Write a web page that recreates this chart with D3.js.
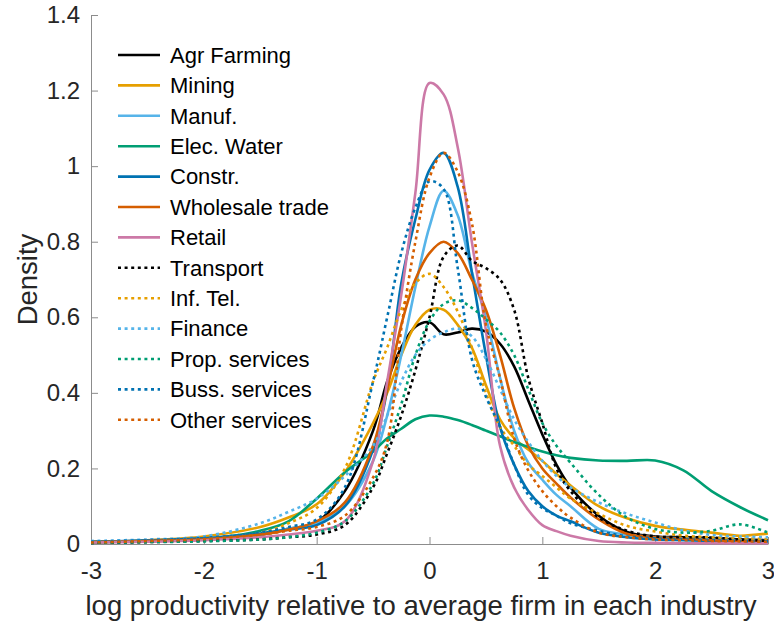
<!DOCTYPE html>
<html>
<head>
<meta charset="utf-8">
<script src="https://cdn.jsdelivr.net/npm/d3@7"></script>
<style>
  html, body { margin: 0; padding: 0; background: #fff; }
  svg { display: block; font-family: "Liberation Sans", Arial, Helvetica, sans-serif; }
</style>
</head>
<body>
<svg id="chart" width="774" height="627"></svg>
<script>
// Evaluation grid for the kernel density estimates
const xGrid = [-3, -2.5, -2, -1.5, -1.25, -1, -0.75, -0.5, -0.375, -0.25, -0.125, 0, 0.125, 0.25, 0.375, 0.5, 0.625, 0.75, 0.875, 1, 1.125, 1.25, 1.5, 1.75, 2, 2.25, 2.5, 2.75, 3];

const industries = ["Agr Farming", "Mining", "Manuf.", "Elec. Water", "Constr.", "Wholesale trade", "Retail",
                    "Transport", "Inf. Tel.", "Finance", "Prop. services", "Buss. services", "Other services"];

const agrFarming   = [0.005, 0.008, 0.012, 0.025, 0.04, 0.058, 0.14, 0.30, 0.43, 0.52, 0.575, 0.587, 0.555, 0.56, 0.57, 0.562, 0.53, 0.47, 0.38, 0.29, 0.21, 0.15, 0.075, 0.032, 0.02, 0.018, 0.015, 0.012, 0.01];
const mining       = [0.005, 0.01, 0.02, 0.045, 0.07, 0.105, 0.19, 0.32, 0.40, 0.50, 0.58, 0.62, 0.62, 0.58, 0.52, 0.42, 0.33, 0.28, 0.25, 0.22, 0.185, 0.155, 0.1, 0.068, 0.048, 0.038, 0.03, 0.022, 0.028];
const manuf        = [0.005, 0.008, 0.012, 0.025, 0.04, 0.055, 0.1, 0.22, 0.34, 0.5, 0.68, 0.84, 0.935, 0.87, 0.72, 0.6, 0.44, 0.3, 0.215, 0.17, 0.13, 0.1, 0.04, 0.025, 0.018, 0.015, 0.012, 0.01, 0.008];
const elecWater    = [0.005, 0.008, 0.013, 0.035, 0.06, 0.12, 0.19, 0.245, 0.28, 0.305, 0.33, 0.34, 0.337, 0.328, 0.315, 0.3, 0.285, 0.27, 0.257, 0.245, 0.235, 0.228, 0.221, 0.22, 0.221, 0.195, 0.14, 0.098, 0.063];
const constr       = [0.005, 0.01, 0.015, 0.028, 0.038, 0.05, 0.1, 0.25, 0.41, 0.69, 0.86, 0.99, 1.035, 0.945, 0.72, 0.5, 0.31, 0.21, 0.14, 0.1, 0.075, 0.06, 0.03, 0.018, 0.012, 0.01, 0.008, 0.006, 0.005];
const wholesale    = [0.005, 0.008, 0.012, 0.025, 0.038, 0.06, 0.11, 0.26, 0.41, 0.58, 0.7, 0.77, 0.8, 0.77, 0.7, 0.62, 0.5, 0.36, 0.26, 0.2, 0.16, 0.123, 0.065, 0.027, 0.018, 0.014, 0.01, 0.008, 0.006];
const retail       = [0.004, 0.006, 0.01, 0.018, 0.025, 0.035, 0.06, 0.22, 0.43, 0.66, 0.93, 1.22, 1.19, 1.05, 0.8, 0.565, 0.26, 0.15, 0.09, 0.05, 0.034, 0.022, 0.008, 0.004, 0.003, 0.002, 0.002, 0.002, 0.002];
const transport    = [0.003, 0.005, 0.008, 0.012, 0.018, 0.025, 0.05, 0.15, 0.24, 0.34, 0.46, 0.6, 0.76, 0.79, 0.75, 0.73, 0.7, 0.62, 0.44, 0.32, 0.2, 0.14, 0.07, 0.035, 0.02, 0.018, 0.017, 0.012, 0.008];
const infTel       = [0.005, 0.008, 0.015, 0.03, 0.055, 0.095, 0.2, 0.43, 0.52, 0.62, 0.69, 0.715, 0.68, 0.615, 0.52, 0.4, 0.31, 0.26, 0.21, 0.18, 0.15, 0.12, 0.08, 0.048, 0.033, 0.022, 0.018, 0.015, 0.013];
const finance      = [0.008, 0.012, 0.02, 0.055, 0.085, 0.12, 0.18, 0.26, 0.34, 0.43, 0.5, 0.54, 0.56, 0.57, 0.55, 0.49, 0.41, 0.33, 0.27, 0.22, 0.18, 0.15, 0.11, 0.08, 0.057, 0.036, 0.024, 0.02, 0.018];
const propServices = [0.003, 0.005, 0.007, 0.012, 0.018, 0.03, 0.06, 0.16, 0.26, 0.37, 0.5, 0.59, 0.635, 0.645, 0.625, 0.595, 0.56, 0.5, 0.41, 0.32, 0.26, 0.215, 0.13, 0.07, 0.04, 0.03, 0.035, 0.052, 0.03];
const bussServices = [0.006, 0.01, 0.016, 0.03, 0.045, 0.065, 0.15, 0.43, 0.6, 0.77, 0.89, 0.96, 0.94, 0.73, 0.49, 0.39, 0.31, 0.21, 0.13, 0.095, 0.075, 0.055, 0.035, 0.02, 0.015, 0.012, 0.01, 0.008, 0.007];
const otherServices= [0.004, 0.008, 0.013, 0.025, 0.035, 0.045, 0.075, 0.176, 0.27, 0.57, 0.8, 0.97, 1.035, 0.985, 0.85, 0.58, 0.44, 0.28, 0.195, 0.14, 0.1, 0.07, 0.03, 0.018, 0.012, 0.01, 0.008, 0.007, 0.006];

const densities = [agrFarming, mining, manuf, elecWater, constr, wholesale, retail,
                   transport, infTel, finance, propServices, bussServices, otherServices];

const palette = ["#000000", "#E69F00", "#56B4E9", "#009E73", "#0072B2", "#D55E00", "#CC79A7"];
const colors = industries.map((d, i) => i < 7 ? palette[i] : palette[i - 7]);
const dotted = industries.map((d, i) => i >= 7);

const xTicks = [-3, -2, -1, 0, 1, 2, 3];
const yTicks = [0, 0.2, 0.4, 0.6, 0.8, 1, 1.2, 1.4];

const svg = d3.select("#chart");
const margin = { left: 91, right: 6, top: 15, bottom: 83 };
const W = 774, H = 627;

const x = d3.scaleLinear().domain([-3, 3]).range([margin.left, W - margin.right]);
const y = d3.scaleLinear().domain([0, 1.4]).range([H - margin.bottom, margin.top]);

const axisColor = "#262626";
const lineColor = "#8c8c8c";

// Plain hyphen for negatives, as in the printed labels
const fmt = d => (d < 0 ? "-" : "") + String(Math.abs(+d.toFixed(1)));

// Axes with inward ticks (left and bottom only)
const gx = svg.append("g")
  .attr("transform", `translate(0,${y(0)})`)
  .call(d3.axisBottom(x).tickValues(xTicks).tickSizeInner(-7).tickSizeOuter(0).tickPadding(18)
    .tickFormat(fmt));
const gy = svg.append("g")
  .attr("transform", `translate(${x(-3)},0)`)
  .call(d3.axisLeft(y).tickValues(yTicks).tickSizeInner(-7).tickSizeOuter(0).tickPadding(11)
    .tickFormat(fmt));

[gx, gy].forEach(g => {
  g.select(".domain").attr("stroke", lineColor).attr("stroke-width", 1);
  g.selectAll(".tick line").attr("stroke", lineColor);
  g.selectAll(".tick text").attr("fill", axisColor).style("font-size", "24px")
    .style("font-family", "'Liberation Sans', Arial, sans-serif");
});
gx.selectAll(".tick text").attr("dy", "0.71em");

// Axis titles
svg.append("text")
  .attr("x", 421).attr("y", 615)
  .attr("text-anchor", "middle").attr("fill", axisColor)
  .style("font-size", "27.5px").text("log productivity relative to average firm in each industry");
svg.append("text")
  .attr("transform", `translate(37,${(y(0) + y(1.4)) / 2}) rotate(-90)`)
  .attr("text-anchor", "middle").attr("fill", axisColor)
  .style("font-size", "27.5px").text("Density");

// Density curves
const line = d3.line()
  .x((d, i) => x(xGrid[i]))
  .y(d => y(d))
  .curve(d3.curveCatmullRom.alpha(0.5));

const plot = svg.append("g");
densities.forEach((vals, i) => {
  plot.append("path")
    .datum(vals)
    .attr("d", line)
    .attr("fill", "none")
    .attr("stroke", colors[i])
    .attr("stroke-width", 2.6)
    .attr("stroke-linejoin", "round")
    .attr("stroke-dasharray", dotted[i] ? "3,3.6" : null);
});

// Legend
const legend = svg.append("g").attr("transform", "translate(118,55)");
industries.forEach((name, i) => {
  const row = legend.append("g").attr("transform", `translate(0,${i * 30.4})`);
  row.append("line")
    .attr("x1", 0).attr("x2", 42).attr("y1", 0).attr("y2", 0)
    .attr("stroke", colors[i]).attr("stroke-width", 2.6)
    .attr("stroke-dasharray", dotted[i] ? "3,3.6" : null);
  row.append("text")
    .attr("x", 52).attr("y", 0).attr("dy", "0.35em")
    .attr("fill", "#000").style("font-size", "22px").text(name);
});
</script>
</body>
</html>
